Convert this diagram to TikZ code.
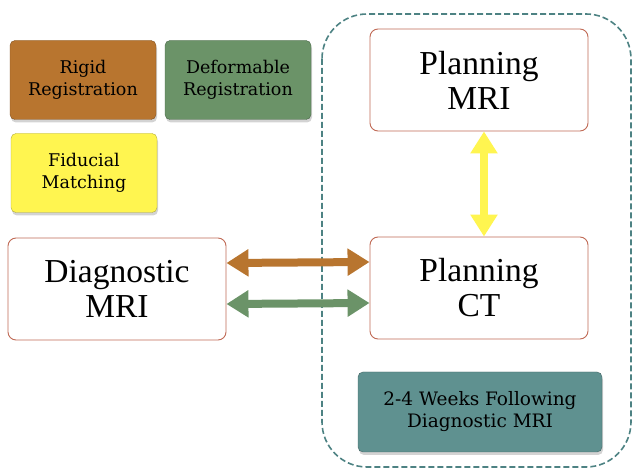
\documentclass[tikz,border=0pt]{standalone}
\usepackage{fontspec}
\setmainfont{Liberation Serif}
\newfontfamily\labelfont{DejaVu Serif}
\usetikzlibrary{arrows.meta,shadows}
\definecolor{rigidbrown}{HTML}{B8752F}
\definecolor{deformgreen}{HTML}{6B9368}
\definecolor{fidyellow}{HTML}{FFF550}
\definecolor{weekteal}{HTML}{5F9190}
\definecolor{boxedge}{HTML}{C06A55}
\definecolor{dashteal}{HTML}{4D8283}
\tikzset{
  smallbox/.style={draw=#1!70!black, fill=#1, rounded corners=5pt, minimum width=146pt,
    minimum height=79pt, align=center, font=\labelfont\fontsize{17.5}{22}\selectfont,
    drop shadow={shadow xshift=1pt, shadow yshift=-3pt, opacity=0.35}},
  bigbox/.style={draw=boxedge, line width=0.9pt, fill=white, rounded corners=8pt, minimum width=218pt,
    minimum height=102pt, align=center, font=\rmfamily\fontsize{33.5}{35}\selectfont},
  twoway/.style={draw=#1, line width=8pt, {Triangle[length=22pt,width=26pt]}-{Triangle[length=22pt,width=26pt]}}
}
\begin{document}
\begin{tikzpicture}[x=1pt,y=-1pt]
    \useasboundingbox (0,0) rectangle (633,470);
    \draw[dashteal, line width=1.6pt, dash pattern=on 6pt off 3pt, rounded corners=45pt]
        (322,14) rectangle (631,467);
    \node[smallbox=rigidbrown] (rigid) at (83,80) {Rigid\\Registration};
    \node[smallbox=deformgreen] (deform) at (238,80) {Deformable\\Registration};
    \node[smallbox=fidyellow] (fiducial) at (84,173) {Fiducial\\Matching};
    \node[bigbox] (diagmri) at (117,289) {Diagnostic\\MRI};
    \node[bigbox] (planmri) at (479,80) {Planning\\MRI};
    \node[bigbox] (planct) at (479,288) {Planning\\CT};
    \node[smallbox=weekteal, minimum width=244pt, minimum height=80pt,
        font=\labelfont\fontsize{18.5}{22}\selectfont] (weeks) at (480,412)
        {2-4 Weeks Following\\Diagnostic MRI};
    \draw[twoway=rigidbrown] ([yshift=26pt]diagmri.east) -- ([yshift=26pt]planct.west);
    \draw[twoway=deformgreen] ([yshift=-15pt]diagmri.east) -- ([yshift=-15pt]planct.west);
    \draw[twoway=fidyellow] ([xshift=5pt]planmri.south) -- ([xshift=5pt]planct.north);
\end{tikzpicture}
\end{document}
